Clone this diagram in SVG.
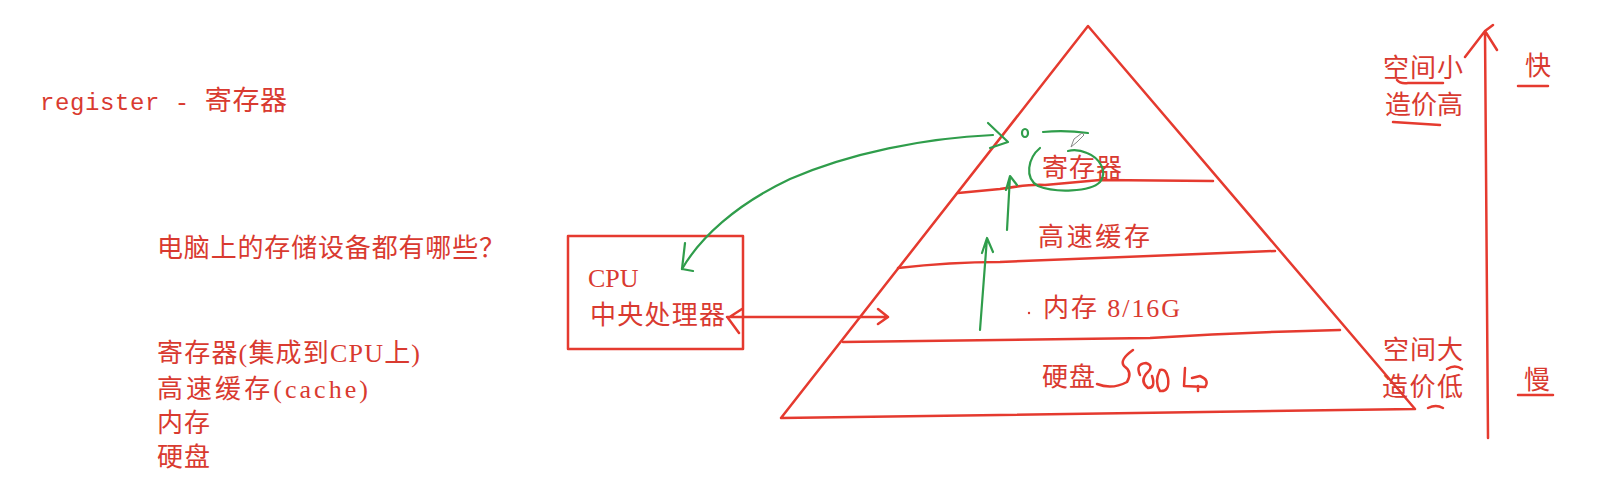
<svg xmlns="http://www.w3.org/2000/svg" width="1608" height="502" viewBox="0 0 1608 502">
<style>
.r{stroke:#e53a2f;stroke-width:2.5;fill:none;stroke-linecap:round;stroke-linejoin:round}
.g{stroke:#2f9d4b;stroke-width:2.2;fill:none;stroke-linecap:round;stroke-linejoin:round}
.t{fill:#d93a30;font-family:"Liberation Serif","Noto Sans CJK SC",serif;font-size:26px}
.m{font-family:"Liberation Mono","Noto Sans CJK SC",monospace}
</style>
<rect width="1608" height="502" fill="#ffffff"/>
<g id="title"><text class="t m" x="40" y="110" textLength="247"><tspan font-size="24">register - </tspan><tspan font-size="27">寄存器</tspan></text></g>
<g id="question"><text class="t" x="157" y="257" textLength="348">电脑上的存储设备都有哪些？</text></g>
<g id="list">
<text class="t" x="157" y="362" textLength="263">寄存器(集成到CPU上)</text>
<text class="t" x="157" y="398" textLength="211">高速缓存(cache)</text>
<text class="t" x="157" y="432" textLength="53">内存</text>
<text class="t" x="157" y="466" textLength="53">硬盘</text>
</g>
<g id="cpu">
<rect x="568" y="236" width="175" height="113" class="r"/>
<text class="t" x="588" y="287" font-size="25">CPU</text>
<text class="t" x="590" y="324" textLength="135">中央处理器</text>
</g>
<g id="pyramid">
<polygon points="1088,26 1415,409 781,418" class="r"/>
<path class="r" d="M958,193 L1000,189 Q1030,184 1045,185 L1100,180 L1213,181"/>
<path class="r" d="M898,268 Q950,262 1000,262 L1275,251"/>
<path class="r" d="M843,342 L1150,338 Q1250,332 1340,330"/>
</g>
<g id="layer-register"><text class="t" x="1042" y="177" font-size="27" textLength="80">寄存器</text></g>
<g id="layer-cache"><text class="t" x="1038" y="246" font-size="27" textLength="112">高速缓存</text></g>
<g id="layer-memory">
<circle cx="1029" cy="313" r="1.2" fill="#d93a30"/>
<text class="t" x="1043" y="317" font-size="25" textLength="137">内存 8/16G</text>
</g>
<g id="layer-disk">
<text class="t" x="1042" y="386" textLength="53">硬盘</text>
<path class="r" stroke-width="2" d="M1097,384 Q1112,390 1127,382 Q1133,372 1124,366 Q1119,360 1133,350 M1140,375 Q1135,364 1146,363 Q1155,366 1146,374 Q1140,382 1148,388 Q1156,388 1152,376 M1160,370 Q1154,382 1160,391 Q1170,392 1168,378 Q1166,368 1160,370 M1185,368 L1184,386 L1205,387 Q1210,380 1200,376 L1192,378 M1198,386 L1198,391"/>
</g>
<g id="scale">
<path class="r" d="M1485,31 L1488,438 M1465,57 L1485,31 L1497,50 M1485,31 L1493,25"/>
<text class="t" x="1383" y="77" textLength="80">空间小</text>
<path class="r" stroke-width="1.8" d="M1397,80 Q1400,84 1408,83 L1443,83"/>
<text class="t" x="1385" y="114" textLength="78">造价高</text>
<path class="r" stroke-width="1.8" d="M1393,122 L1440,125"/>
<text class="t" x="1525" y="75" font-size="25">快</text>
<path class="r" stroke-width="1.8" d="M1518,86 L1548,86"/>
<text class="t" x="1383" y="359" textLength="80">空间大</text>
<text class="t" x="1382" y="396" textLength="81">造价低</text>
<path class="r" stroke-width="1.8" d="M1447,369 Q1455,364 1462,369 M1428,408 Q1436,404 1443,408"/>
<text class="t" x="1524" y="389" font-size="27">慢</text>
<path class="r" stroke-width="1.8" d="M1518,395 L1553,395"/>
</g>
<g id="connectors">
<path class="r" stroke-width="2" d="M727,317 L887,317 M878,309 L888,317 L878,324 M742,309 L728,318 L739,333"/>
<path class="g" d="M682,269 C700,238 735,205 790,179 C850,153 925,138 993,135"/>
<path class="g" d="M685,243 L682,269 L693,271"/>
<path class="g" d="M988,123 L1008,142 L990,148"/>
<ellipse cx="1025" cy="133" rx="3" ry="4" class="g" stroke-width="1.8"/>
<path class="g" d="M1043,132 Q1065,130 1088,133"/>
<path class="g" d="M1040,148 C1028,158 1024,178 1038,186 C1055,193 1090,192 1100,182 C1108,172 1100,158 1087,153 C1080,150 1072,150 1068,151"/>
<path class="g" d="M1007,230 L1010,176 M1006,190 L1010,176 L1017,185"/>
<path class="g" d="M980,330 L987,238 M982,253 L987,238 L993,252"/>
<path d="M1071,147 L1074,139 L1082,133 L1084,135 L1077,142 Z" fill="#ffffff" stroke="#888888" stroke-width="1"/>
</g>
</svg>
